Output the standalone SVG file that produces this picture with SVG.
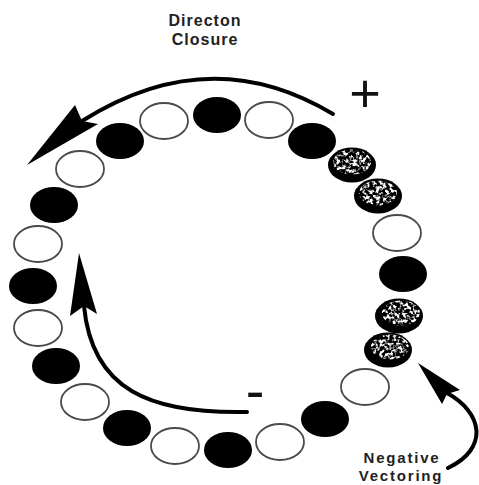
<svg xmlns="http://www.w3.org/2000/svg" width="479" height="485" viewBox="0 0 479 485">
  <style>
    .dark { fill: #000; }
    .light { fill: #fff; stroke: #4a4a4a; stroke-width: 1.8; }
    .shaft { fill: none; stroke: #000; stroke-width: 4; stroke-linecap: round; }
    .head { fill: #000; }
    .label { font-family: "Liberation Sans", Arial, sans-serif; font-weight: bold; fill: #222; text-anchor: middle; }
    .sign { font-family: "Liberation Sans", Arial, sans-serif; fill: #111; text-anchor: middle; }
  </style>
  <defs>
    <!-- soft white speckle texture clipped to the shape it is applied to -->
    <filter id="mottle" x="0" y="0" width="100%" height="100%">
      <feTurbulence type="fractalNoise" baseFrequency="0.3" numOctaves="2" seed="7" result="noise"/>
      <feColorMatrix in="noise" type="matrix" values="0 0 0 0 1  0 0 0 0 1  0 0 0 0 1  5 0 0 0 -2.2" result="spots"/>
      <feGaussianBlur in="spots" stdDeviation="0.45" result="soft"/>
      <feComposite in="soft" in2="SourceAlpha" operator="in"/>
    </filter>
  </defs>

  <!-- ring of states -->
  <g id="n01"><ellipse class="dark" cx="217" cy="115" rx="24" ry="18"/></g>
  <g id="n02"><ellipse class="light" cx="164" cy="121" rx="24" ry="18"/></g>
  <g id="n03"><ellipse class="dark" cx="120" cy="141" rx="24" ry="18"/></g>
  <g id="n04"><ellipse class="light" cx="80" cy="169" rx="24" ry="18"/></g>
  <g id="n05"><ellipse class="dark" cx="54" cy="205" rx="24" ry="18"/></g>
  <g id="n06"><ellipse class="light" cx="38" cy="244" rx="24" ry="18"/></g>
  <g id="n07"><ellipse class="dark" cx="33" cy="286" rx="24" ry="18"/></g>
  <g id="n08"><ellipse class="light" cx="38" cy="328" rx="24" ry="18"/></g>
  <g id="n09"><ellipse class="dark" cx="56" cy="366" rx="24" ry="18"/></g>
  <g id="n10"><ellipse class="light" cx="85" cy="402" rx="24" ry="18"/></g>
  <g id="n11"><ellipse class="dark" cx="127" cy="428" rx="24" ry="18"/></g>
  <g id="n12"><ellipse class="light" cx="175" cy="446" rx="24" ry="18"/></g>
  <g id="n13"><ellipse class="dark" cx="228" cy="450" rx="24" ry="18"/></g>
  <g id="n14"><ellipse class="light" cx="280" cy="442" rx="24" ry="18"/></g>
  <g id="n15"><ellipse class="dark" cx="325" cy="419" rx="24" ry="18"/></g>
  <g id="n16"><ellipse class="light" cx="365" cy="387" rx="24" ry="18"/></g>
  <g id="n17"><ellipse class="dark" cx="388" cy="350" rx="24" ry="17.5"/><ellipse cx="390" cy="347" rx="19" ry="12.5" filter="url(#mottle)"/></g>
  <g id="n18"><ellipse class="dark" cx="399" cy="316" rx="24" ry="17.5"/><ellipse cx="401" cy="313" rx="19" ry="12.5" filter="url(#mottle)"/></g>
  <g id="n19"><ellipse class="dark" cx="403" cy="274" rx="24" ry="18"/></g>
  <g id="n20"><ellipse class="light" cx="397" cy="233" rx="24" ry="18"/></g>
  <g id="n21"><ellipse class="dark" cx="378" cy="196" rx="24" ry="17.5"/><ellipse cx="378" cy="193" rx="19" ry="12.5" filter="url(#mottle)"/></g>
  <g id="n22"><ellipse class="dark" cx="352" cy="165" rx="24" ry="17.5"/><ellipse cx="352" cy="162" rx="19" ry="12.5" filter="url(#mottle)"/></g>
  <g id="n23"><ellipse class="dark" cx="312" cy="141" rx="24" ry="18"/></g>
  <g id="n24"><ellipse class="light" cx="269" cy="120" rx="24" ry="18"/></g>

  <!-- connectors -->
  <g id="connectors">
    <path class="shaft" d="M333,114 Q210,40 82,121"/>
    <polygon class="head" points="27,165 75,105 82,121 98,124"/>
    <path class="shaft" d="M247,412 C150,414 92,390 84,306"/>
    <polygon class="head" points="79,253 97,314 84,306 70,316"/>
    <path class="shaft" d="M448,468 C490,448 482,412 447,393"/>
    <polygon class="head" points="418,363 460,390 447,394 442,404"/>
  </g>

  <!-- labels -->
  <g id="labels">
    <text class="label" font-size="16" letter-spacing="1" x="205" y="26">Directon</text>
    <text class="label" font-size="16" letter-spacing="1" x="205" y="45">Closure</text>
    <text class="label" font-size="15" letter-spacing="1.8" x="402" y="463">Negative</text>
    <text class="label" font-size="15" letter-spacing="1.8" x="401" y="481">Vectoring</text>
    <text class="sign" font-size="54" x="365" y="112">+</text>
    <text class="sign" font-size="56" x="255" y="410">-</text>
  </g>
</svg>
